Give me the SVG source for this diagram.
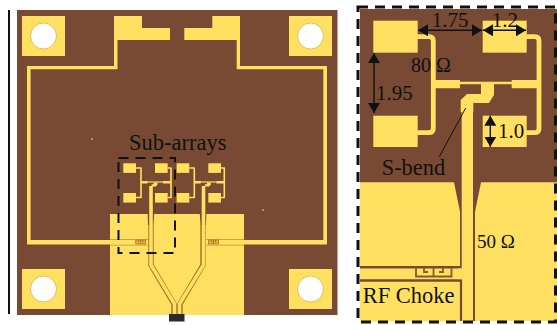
<svg xmlns="http://www.w3.org/2000/svg" width="557" height="325" viewBox="0 0 557 325">
<style>
.b{fill:#784a33}.y{fill:#ffe060}.yl{fill:none;stroke:#ffe060;stroke-linejoin:round}
.g{fill:none;stroke:#a8701f;stroke-linejoin:miter}
.t{font-family:"Liberation Serif","Times New Roman",serif;fill:#111}
.d{fill:none;stroke:#111;stroke-dasharray:10 7}
.a{fill:none;stroke:#111;stroke-width:1.4;marker-start:url(#ah);marker-end:url(#ah)}
.h{fill:#fff;stroke:#d9b23f;stroke-width:.8}
.c{fill:#e0b040;stroke:#a8701f;stroke-width:.7}
</style>
<defs>
<marker id="ah" viewBox="0 0 10 12" refX="10" refY="6" markerUnits="userSpaceOnUse" markerWidth="10" markerHeight="12" orient="auto-start-reverse"><path d="M0 0L10 6L0 12Z" fill="#111"/></marker>
<g id="arr">
<rect class="y" x="123.3" y="163.3" width="12.7" height="9.6"/>
<rect class="y" x="155" y="163.3" width="12.7" height="9.6"/>
<rect class="y" x="123.3" y="193" width="12.7" height="9.6"/>
<rect class="y" x="155" y="193" width="12.7" height="9.6"/>
<path class="yl" stroke-width="1.6" d="M136 168H141V197.5H136M167.7 168H171V197.5H167.7"/>
<path class="yl" stroke-width="2.4" d="M141 182.2H147.5M163 182.2H171"/>
<path class="yl" stroke-width="1.2" d="M147 182H163"/>
<path class="y" d="M153.7 182.5H157.5V184.5L156 186.500H151.500V184.500L153.700 184Z"/>
</g>
<g id="choke"><rect class="c" x="0" y="0" width="10" height="4"/><path class="c" d="M3 0V2.500M7 0V2.500M5 0V4"/></g>
</defs>
<rect width="557" height="325" fill="#fff"/>
<g id="left-board">
<rect x="8" y="10" width="2" height="304" fill="#111"/>
<rect class="b" x="17" y="10" width="320.500" height="305"/>
<g id="mount-holes">
<rect class="y" x="22" y="16" width="43" height="40"/><circle class="h" cx="43.500" cy="36" r="13"/>
<rect class="y" x="289" y="16" width="43" height="40"/><circle class="h" cx="310.500" cy="36" r="13"/>
<rect class="y" x="22" y="269" width="43" height="40"/><circle class="h" cx="43.500" cy="289" r="13"/>
<rect class="y" x="289" y="269" width="43" height="40"/><circle class="h" cx="310.500" cy="289" r="13"/>
</g>
<path class="y" d="M114 16H142V28H170V40H117.500V69.300H30.600V240H148V244.500H27V66H114Z"/>
<path class="y" d="M240 16H212.300V28H184.300V40H236.700V69.300H323.300V240H206V244.500H327V66H240Z"/>
<g id="ground">
<rect class="y" x="110" y="214" width="134" height="101"/>
<path class="b" d="M147.700 214H154.200L153.500 225H148Z"/>
<path class="b" d="M199.800 214H206.300L206 225H200.500Z"/>
</g>
<path d="M110 239.700H148M110 245H148M244 239.700H206M244 245H206" fill="none" stroke="#a8701f" stroke-width=".7"/>
<path class="y" d="M110 240H148V244.500H110ZM206 240H244V244.500H206Z"/>
<g id="feeds">
<path class="g" stroke-width="5.400" d="M151 225V265L174 304V315"/>
<path class="g" stroke-width="5.400" d="M203 225V265L180 304V315"/>
<path class="yl" stroke-width="3.600" d="M151 186V265L174.500 304V315"/>
<path class="yl" stroke-width="3.600" d="M203.500 186V265L179.500 304V315"/>
<path d="M177 304V315" stroke="#a8701f" stroke-width=".8"/>
</g>
<use href="#choke" x="135.700" y="240"/>
<use href="#choke" x="208.500" y="240"/>
<use href="#arr"/>
<use href="#arr" x="53.300"/>
<circle cx="92" cy="139" r="1" fill="#f0a020"/>
<circle cx="263" cy="210" r="1" fill="#f0a020"/>
<rect x="169" y="314" width="15.500" height="7.500" fill="#2b2b2b"/>
<rect id="sub-box" class="d" stroke-width="2" x="118.500" y="158" width="56.500" height="95"/>
<text class="t" x="129" y="150" font-size="22.500">Sub-arrays</text>
</g>
<g id="right-detail">
<rect class="b" x="360" y="9" width="197" height="312"/>
<g id="lower-metal">
<path class="y" d="M360 182.300H454L460 211.700V266H360Z"/>
<rect class="y" x="360" y="268.500" width="102" height="11"/>
<rect class="y" x="360" y="281.500" width="100" height="40"/>
<path class="y" d="M557 182.300H481L475 212V321H557Z"/>
<rect class="y" x="458" y="268.500" width="6" height="11"/>
<rect class="y" x="461.700" y="103" width="11.300" height="218"/>
<path fill="none" stroke="#784a33" stroke-width="2.200" d="M360 280.500H461V321"/>
</g>
<g id="choke-detail" fill="none" stroke="#8a5a25" stroke-width="1.800">
<path d="M416 268V276.500H451.500V268M433.500 268V276.500M424 268V272H428M443 268V272H439"/>
</g>
<g id="patches">
<rect class="y" x="373.300" y="20.700" width="44.400" height="32"/>
<rect class="y" x="482.700" y="20.700" width="44" height="32"/>
<rect class="y" x="373.300" y="115.700" width="44.400" height="31.300"/>
<rect class="y" x="482.700" y="115.700" width="44" height="31.300"/>
<path class="yl" stroke-width="4.800" fill="none" d="M417 36.700H429Q433.300 36.700 433.300 41V128.500Q433.300 132.700 429 132.700H417"/>
<path class="yl" stroke-width="4.800" fill="none" d="M526 36.700H535Q539 36.700 539 41V128.500Q539 132.700 535 132.700H526"/>
<path class="y" d="M433 80H460V88.300H433ZM511.700 80H537V88.300H511.700Z"/>
<rect class="y" x="459" y="81.700" width="53" height="2.500"/>
<path class="y" d="M481 84H494V95L489 103H473.300V112H460.700V100L467 94H481Z"/>
</g>
<g id="labels">
<path class="a" d="M418 30.300H482"/>
<path class="a" d="M483 30.300H526"/>
<path class="a" d="M374 53V113"/>
<path class="a" d="M490.300 115.700V146.700"/>
<path d="M465.700 108L439.300 156.700" stroke="#111" stroke-width="1" fill="none"/>
<text class="t" x="431.700" y="26.700" font-size="21">1.75</text>
<text class="t" x="491.700" y="26.700" font-size="21">1.2</text>
<text class="t" x="411" y="71.700" font-size="20">80 Ω</text>
<text class="t" x="376" y="100" font-size="21">1.95</text>
<text class="t" x="498" y="138.300" font-size="21">1.0</text>
<text class="t" x="381.700" y="175" font-size="22.400">S-bend</text>
<text class="t" x="477" y="248.300" font-size="19">50 Ω</text>
<text class="t" x="362.700" y="303.300" font-size="22.500">RF Choke</text>
</g>
<rect id="detail-box" class="d" stroke-width="3" x="358" y="7" width="197.500" height="315"/>
</g>
</svg>
